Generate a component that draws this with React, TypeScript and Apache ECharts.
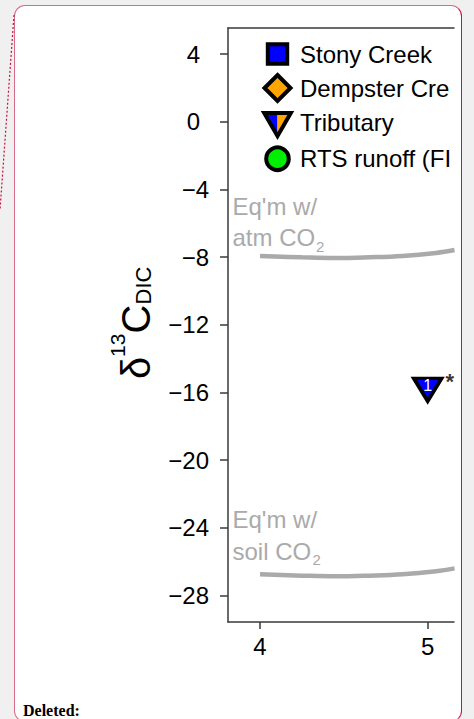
import React, { useEffect, useRef } from 'react';
import * as echarts from 'echarts';

// Axis ticks
const yTicks = [-28, -24, -20, -16, -12, -8, -4, 0, 4];
const xTicks = [4, 5];

// Equilibrium curves (x, δ13C-DIC)
const eqX = [4.0, 4.25, 4.45, 4.65, 4.85, 5.05, 5.16];
const eqAtm = [-7.93, -8.01, -8.05, -8.01, -7.93, -7.75, -7.58];
const eqSoil = [-26.74, -26.82, -26.86, -26.82, -26.74, -26.56, -26.39];

// Tributary sample
const tributary = [[5, -15.6]];
const tributaryIds = ['1'];
const tributaryNote = '*';

// Legend entries
const legendNames = ['Stony Creek', 'Dempster Creek', 'Tributary', 'RTS runoff (FI'];

const FONT = '"Liberation Sans", Arial, Helvetica, sans-serif';
const SERIF = '"Liberation Serif", "Times New Roman", serif';
const AXIS = '#3a3a3a';
const GREY = '#aaaaaa';
const BLUE = '#0000ff';
const ORANGE = '#ffa500';
const GREEN = '#00ee00';

const fmtY = (v: number) => (v < 0 ? '\u2212' + Math.abs(v) : '{p|' + v + '}');

// One piece of the rotated axis title: reads bottom-to-top, baseline at bx, starting at y
const titlePiece = (text: string, fontSize: number, bx: number, y: number) => ({
  type: 'text',
  x: bx - 0.3465 * fontSize,
  y,
  rotation: Math.PI / 2,
  z: 20,
  style: { text, fontFamily: FONT, fontSize, fill: '#000', align: 'left', verticalAlign: 'middle' },
});

function buildOption(): any {
  const atmLine = eqX.map((x, i) => [x, eqAtm[i]]);
  const soilLine = eqX.map((x, i) => [x, eqSoil[i]]);
  const rowY = [54, 88, 122.5, 158.7];
  const mx = 277.5;

  const legendText = legendNames.map((name, i) => ({
    type: 'text',
    x: 300,
    y: rowY[i],
    z: 20,
    style: {
      text: name,
      fontFamily: FONT,
      fontSize: 24,
      fill: '#000',
      align: 'left',
      verticalAlign: 'middle',
      width: 154,
      overflow: 'truncate',
      ellipsis: '',
    },
  }));

  const greyText = (text: string, x: number, y: number, size = 24) => ({
    type: 'text',
    x,
    y,
    z: 20,
    style: { text, fontFamily: FONT, fontSize: size, fill: GREY, align: 'left', verticalAlign: 'middle' },
  });

  return {
    animation: false,
    grid: { left: 228, right: 20, top: 28, bottom: 97 },
    xAxis: [
      {
        type: 'value',
        position: 'bottom',
        min: 3.809,
        max: 5.157,
        axisLine: { show: true, onZero: false, lineStyle: { color: AXIS, width: 1.5 } },
        axisTick: { show: true, length: 7, customValues: xTicks, lineStyle: { color: AXIS, width: 1.5 } },
        axisLabel: { customValues: xTicks, margin: 12, color: '#000', fontSize: 24, fontFamily: FONT },
        splitLine: { show: false },
      },
      {
        type: 'value',
        position: 'top',
        min: 3.809,
        max: 5.157,
        axisLine: { show: true, onZero: false, lineStyle: { color: AXIS, width: 1.5 } },
        axisTick: { show: false },
        axisLabel: { show: false },
        splitLine: { show: false },
      },
    ],
    yAxis: {
      type: 'value',
      min: -29.56,
      max: 5.54,
      axisLine: { show: true, onZero: false, lineStyle: { color: AXIS, width: 1.5 } },
      axisTick: { show: true, length: 8, customValues: yTicks, lineStyle: { color: AXIS, width: 1.5 } },
      axisLabel: {
        customValues: yTicks,
        formatter: fmtY,
        margin: 19,
        color: '#000',
        fontSize: 24,
        fontFamily: FONT,
        rich: { p: { fontSize: 24, fontFamily: FONT, color: '#000', padding: [0, 9, 0, 0] } },
      },
      splitLine: { show: false },
    },
    series: [
      {
        type: 'line',
        data: atmLine,
        smooth: 0.4,
        showSymbol: false,
        lineStyle: { color: GREY, width: 4.5, cap: 'butt' },
        z: 2,
      },
      {
        type: 'line',
        data: soilLine,
        smooth: 0.4,
        showSymbol: false,
        lineStyle: { color: GREY, width: 4.5, cap: 'butt' },
        z: 2,
      },
      {
        type: 'scatter',
        data: tributary,
        symbol: 'path://M0,0L2,0L1,1.732Z',
        symbolSize: [28, 23],
        symbolOffset: [0, 4],
        itemStyle: { color: BLUE, borderColor: '#000', borderWidth: 3.5, opacity: 1 },
        label: {
          show: true,
          position: 'inside',
          formatter: (p: any) => tributaryIds[p.dataIndex],
          color: '#fff',
          fontSize: 16,
          fontFamily: FONT,
          offset: [0, -4],
        },
        z: 5,
      },
      {
        type: 'scatter',
        data: tributary,
        symbol: 'circle',
        symbolSize: 1,
        itemStyle: { color: 'transparent' },
        label: {
          show: true,
          position: 'inside',
          formatter: () => tributaryNote,
          color: '#000',
          fontSize: 22,
          fontWeight: 'bold',
          fontFamily: FONT,
          offset: [22, -4],
        },
        z: 6,
      },
    ],
    graphic: [
      // dotted connector to the comment balloon
      {
        type: 'line',
        shape: { x1: 14, y1: 15, x2: 0, y2: 210 },
        style: { stroke: '#c4103a', lineWidth: 1.2, lineDash: [2, 2] },
      },
      // y-axis title: δ13C with DIC subscript
      titlePiece('δ', 40, 150, 379),
      titlePiece('13', 21, 125, 357),
      titlePiece('C', 40, 150, 333.5),
      titlePiece('DIC', 22, 151, 304.5),
      // equilibrium labels
      greyText("Eq'm w/", 232.5, 206.7),
      greyText('atm CO', 232.5, 237.4),
      greyText('2', 316, 246.3, 15),
      greyText("Eq'm w/", 232.5, 519),
      greyText('soil CO', 232.5, 551.7),
      greyText('2', 312.5, 559.8, 15),
      // legend markers
      {
        type: 'rect',
        z: 20,
        shape: { x: mx - 9.7, y: rowY[0] - 9.7, width: 19.4, height: 19.4 },
        style: { fill: BLUE, stroke: '#000', lineWidth: 4 },
      },
      {
        type: 'polygon',
        z: 20,
        shape: { points: [[mx, rowY[1] - 13], [mx + 13, rowY[1]], [mx, rowY[1] + 13], [mx - 13, rowY[1]]] },
        style: { fill: ORANGE, stroke: '#000', lineWidth: 4, lineJoin: 'miter' },
      },
      {
        type: 'polygon',
        z: 20,
        shape: { points: [[mx - 13.3, 113], [mx, 113], [mx, 136]] },
        style: { fill: BLUE },
      },
      {
        type: 'polygon',
        z: 20,
        shape: { points: [[mx, 113], [mx + 13.3, 113], [mx, 136]] },
        style: { fill: ORANGE },
      },
      {
        type: 'polygon',
        z: 21,
        shape: { points: [[mx - 13.3, 113], [mx + 13.3, 113], [mx, 136]] },
        style: { fill: 'none', stroke: '#000', lineWidth: 4, lineJoin: 'miter' },
      },
      {
        type: 'circle',
        z: 20,
        shape: { cx: mx, cy: rowY[3], r: 11.3 },
        style: { fill: GREEN, stroke: '#000', lineWidth: 4 },
      },
      ...legendText,
      // text below the balloon
      {
        type: 'text',
        x: 23,
        y: 710,
        z: 20,
        style: {
          text: 'Deleted:',
          fontFamily: SERIF,
          fontWeight: 'bold',
          fontSize: 16,
          fill: '#000',
          align: 'left',
          verticalAlign: 'middle',
        },
      },
    ],
  };
}

export default function App() {
  const ref = useRef<HTMLDivElement>(null);
  useEffect(() => {
    if (!ref.current) return;
    const chart = echarts.init(ref.current, null, { renderer: 'svg' });
    chart.setOption(buildOption());
    return () => chart.dispose();
  }, []);
  return (
    <div
      style={{
        position: 'fixed',
        left: 0,
        top: 0,
        width: 474,
        height: 719,
        background: '#f0f0f0',
        overflow: 'hidden',
      }}
    >
      <div
        style={{
          position: 'absolute',
          left: 14,
          top: 5,
          width: 448,
          height: 717,
          boxSizing: 'border-box',
          background: '#ffffff',
          border: '1px solid #d66c88',
          borderRightColor: '#c8133e',
          borderRadius: 11,
        }}
      />
      <div ref={ref} style={{ position: 'absolute', left: 0, top: 0, width: 474, height: 719 }} />
    </div>
  );
}
